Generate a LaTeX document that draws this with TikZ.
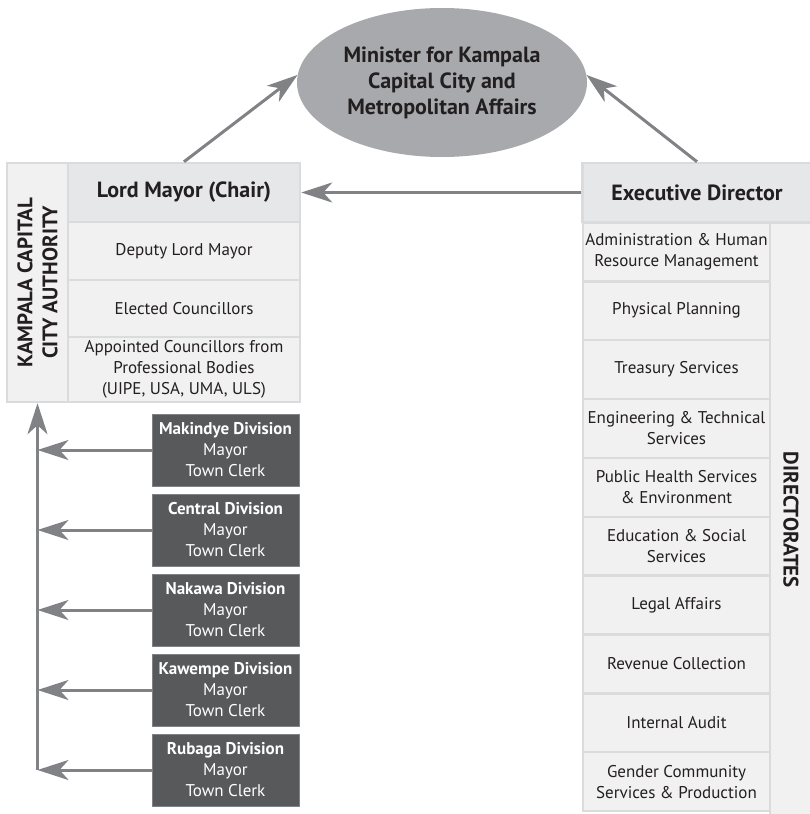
\documentclass[tikz,border=0pt]{standalone}
\usepackage{fontspec}
\setmainfont{PT Sans}
\usetikzlibrary{shapes.geometric,arrows.meta}
\definecolor{arrowgray}{HTML}{808285}
\definecolor{ellgray}{HTML}{A7A9AC}
\definecolor{headgray}{HTML}{E6E7E8}
\definecolor{bodygray}{HTML}{F1F1F2}
\definecolor{rulegray}{HTML}{DADBDC}
\definecolor{divgray}{HTML}{58595B}
\definecolor{inkblack}{HTML}{231F20}
\begin{document}
\begin{tikzpicture}[x=1pt, y=-1pt,
  box/.style={draw=rulegray, line width=2.5pt, fill=bodygray, inner sep=0pt,
    align=center, text=inkblack, font=\fontsize{17}{21}\selectfont},
  headbox/.style={box, fill=headgray, font=\fontsize{22}{26}\selectfont\bfseries},
  sidelabel/.style={inner sep=0pt, align=center, text=inkblack,
    font=\fontsize{21}{25}\selectfont\bfseries},
  divbox/.style={draw=arrowgray, line width=0.8pt, fill=divgray, text=white,
    inner sep=0pt, align=center, minimum width=147, minimum height=72,
    font=\fontsize{17}{21}\selectfont},
  link/.style={draw=arrowgray, line width=3pt,
    -{Stealth[length=31pt, width=20pt, inset=9pt]}}]
\useasboundingbox (0,0) rectangle (810,814);

% minister
\node[ellipse, fill=ellgray, minimum width=290, minimum height=149, inner sep=0pt,
  align=center, text=inkblack, font=\fontsize{22}{26}\selectfont\bfseries]
  (min) at (442,82.5) {Minister for Kampala\\Capital City and\\Metropolitan Affairs};

% authority
\node[box, minimum width=61, minimum height=239] (kcca) at (37.5,282.5) {};
\node[sidelabel, rotate=90] (kccatext) at (kcca) {KAMPALA CAPITAL\\CITY AUTHORITY};
\node[headbox, minimum width=232, minimum height=59] (lm) at (184,192.5) {Lord Mayor (Chair)};
\node[box, minimum width=232, minimum height=58] (deputy) at (184,251) {Deputy Lord Mayor};
\node[box, minimum width=232, minimum height=57] (elected) at (184,308.5) {Elected Councillors};
\node[box, minimum width=232, minimum height=65] (appointed) at (184,369.5)
  {Appointed Councillors from\\Professional Bodies\\(UIPE, USA, UMA, ULS)};

% executive side
\node[headbox, minimum width=229, minimum height=59] (ed) at (697,192.5) {Executive Director};
\node[box, minimum width=42, minimum height=595] (dircol) at (791,520) {};
\node[sidelabel, rotate=-90] (dirtext) at (dircol) {DIRECTORATES};
\foreach \t [count=\i] in {{Administration \& Human\\Resource Management},
    {Physical Planning}, {Treasury Services}, {Engineering \& Technical\\Services},
    {Public Health Services\\\& Environment}, {Education \& Social\\Services},
    {Legal Affairs}, {Revenue Collection}, {Internal Audit},
    {Gender Community\\Services \& Production}}
  \node[box, minimum width=187, minimum height=58.85]
    (dir\i) at (676.5,{222.5+58.85*(\i-0.5)}) {\t};

% divisions
\foreach \d [count=\i] in {Makindye, Central, Nakawa, Kawempe, Rubaga}
  \node[divbox] (div\i) at (225.5,{450+80*(\i-1)}) {\textbf{\d\ Division}\\Mayor\\Town Clerk};
\coordinate (bus) at (kcca.south |- div5.west);

% connectors
\draw[link] (lm.north) -- (min.177);
\draw[link] (ed.north) -- (min.3);
\draw[link] (ed.west) -- (lm.east);
\foreach \i in {1,...,5}
  \draw[link] (div\i.west) -- (div\i.west -| bus);
\draw[link] (bus) -- (kcca.south);
\end{tikzpicture}
\end{document}
